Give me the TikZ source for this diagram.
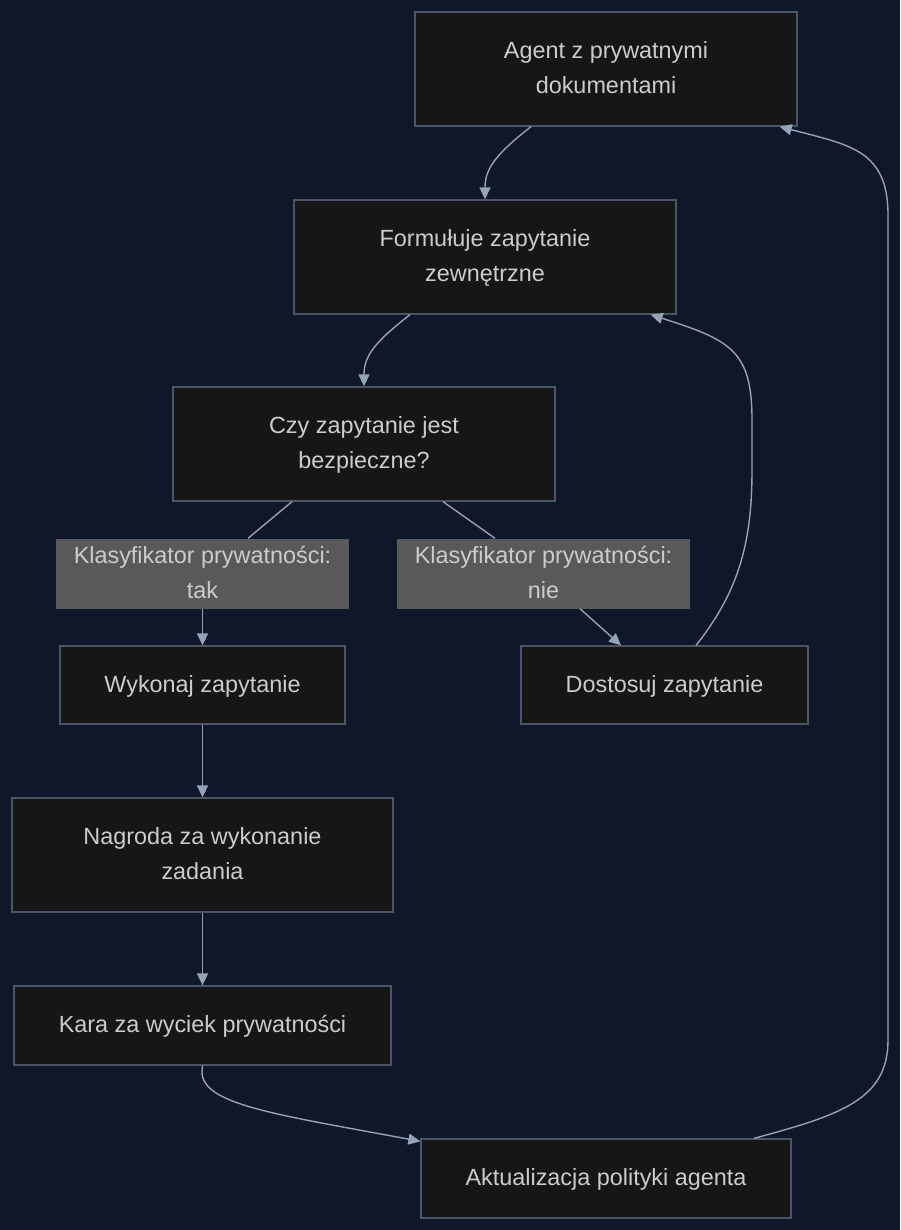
\documentclass[tikz,border=0pt]{standalone}
\usepackage{fontspec}
\setmainfont{Liberation Sans}
\usetikzlibrary{arrows.meta,calc}
\definecolor{bgc}{RGB}{15,23,41}
\definecolor{nodefill}{RGB}{22,22,22}
\definecolor{nodeline}{RGB}{74,85,104}
\definecolor{edgec}{RGB}{148,163,184}
\definecolor{labfill}{RGB}{89,89,89}
\definecolor{txt}{RGB}{204,204,204}
\tikzset{
  box/.style={draw=nodeline, line width=1.3pt, fill=nodefill, text=txt, align=center, inner sep=0pt,
    font=\fontsize{23.4}{35}\selectfont},
  lab/.style={fill=labfill, text=txt, align=center, inner sep=0pt, minimum width=293pt, minimum height=69pt,
    font=\fontsize{23.4}{35}\selectfont},
  edge/.style={draw=edgec, line width=1.4pt},
  arr/.style={edge, -{Triangle[length=12pt,width=11pt]}},
}
\begin{document}
\begin{tikzpicture}[x=1pt,y=-1pt]
\fill[bgc] (0,0) rectangle (900,1230);
\useasboundingbox (0,0) rectangle (900,1230);

\node[box, minimum width=382pt, minimum height=114pt] (agent) at (606,69) {\strut Agent z prywatnymi\\\strut dokumentami};
\node[box, minimum width=382pt, minimum height=114pt] (form) at (485,257) {\strut Formułuje zapytanie\\\strut zewnętrzne};
\node[box, minimum width=382pt, minimum height=114pt] (czy) at (364,444) {\strut Czy zapytanie jest\\\strut bezpieczne?};
\node[lab] (tak) at (202.5,573.5) {\strut Klasyfikator prywatności:\\\strut tak};
\node[lab] (nie) at (543.5,573.5) {\strut Klasyfikator prywatności:\\\strut nie};
\node[box, minimum width=285pt, minimum height=78pt] (wyk) at (202.5,685) {\strut Wykonaj zapytanie};
\node[box, minimum width=287pt, minimum height=78pt] (dost) at (664.5,685) {\strut Dostosuj zapytanie};
\node[box, minimum width=381pt, minimum height=114pt] (nagr) at (202.5,855) {\strut Nagroda za wykonanie\\\strut zadania};
\node[box, minimum width=377pt, minimum height=79pt] (kara) at (202.5,1025.5) {\strut Kara za wyciek prywatności};
\node[box, minimum width=370pt, minimum height=79pt] (akt) at (606,1178.5) {\strut Aktualizacja polityki agenta};

\draw[arr] ([xshift=-75pt]agent.south) .. controls ++(-36,28) and ++(0,-30) .. (form.north);
\draw[arr] ([xshift=-75pt]form.south) .. controls ++(-36,28) and ++(0,-30) .. (czy.north);
\draw[edge] ([xshift=-72pt]czy.south) -- ([xshift=45.5pt]tak.north);
\draw[arr] (tak.south) -- (wyk.north);
\draw[edge] ([xshift=79pt]czy.south) -- ([xshift=-48.5pt]nie.north);
\draw[arr] ([xshift=36.5pt]nie.south) -- ([xshift=-43.5pt]dost.north);
\draw[arr] ([xshift=31.5pt]dost.north) .. controls (740,590) and (752,540) .. (752,470)
  -- (752,420) .. controls (752,350) and (730,340) .. ([xshift=-26pt]form.south east);
\draw[arr] (wyk.south) -- (nagr.north);
\draw[arr] (nagr.south) -- (kara.north);
\draw[arr] (kara.south) -- (202,1072) .. controls (202,1105) and (280,1115) .. ([yshift=-3pt]akt.north west);
\draw[arr] ([xshift=148pt]akt.north) .. controls (840,1115) and (888,1100) .. (888,1040)
  -- (888,215) .. controls (888,150) and (850,145) .. ([xshift=-18pt]agent.south east);
\end{tikzpicture}
\end{document}
